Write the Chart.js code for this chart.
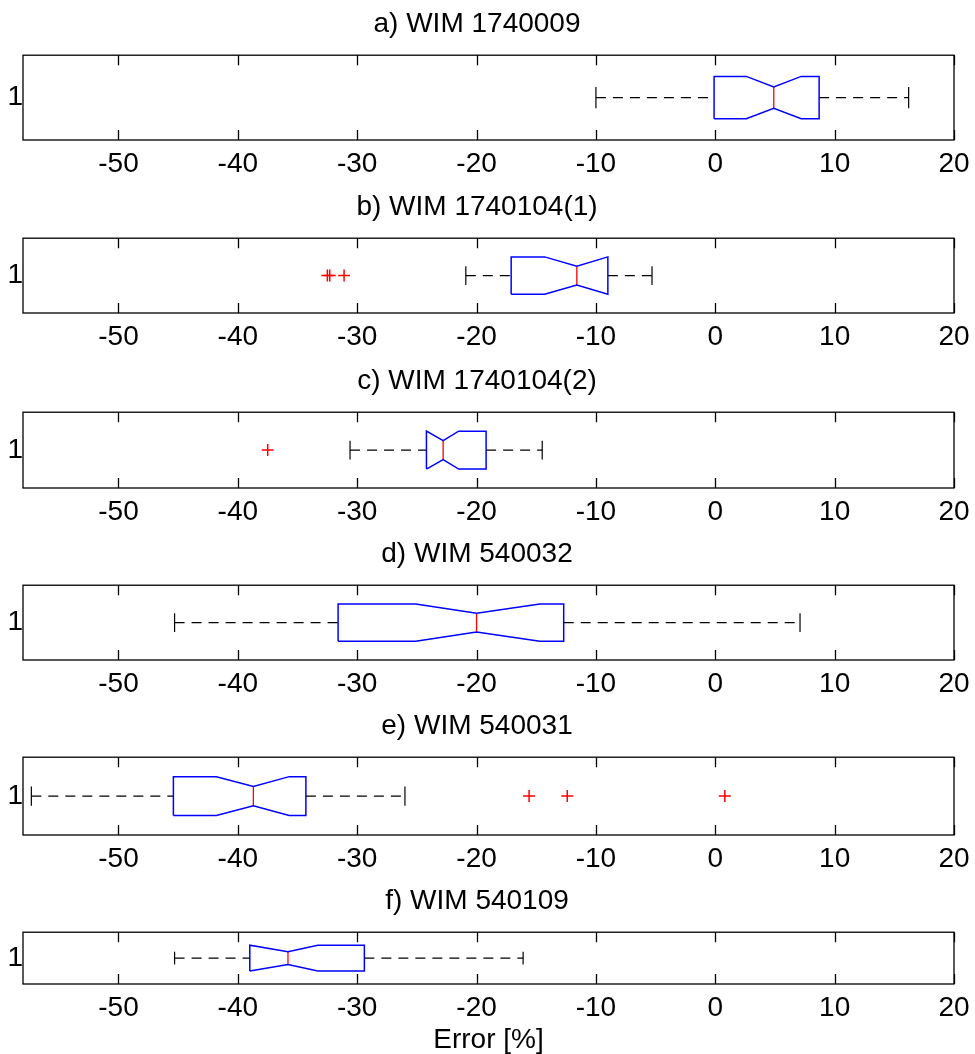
<!DOCTYPE html>
<html><head><meta charset="utf-8">
<script src="https://cdn.jsdelivr.net/npm/chart.js@4.4.0/dist/chart.umd.min.js"></script>
<style>
html,body{margin:0;padding:0;background:#fff;}
#wrap{position:relative;width:975px;height:1054px;overflow:hidden;background:#fff;}
canvas{position:absolute;left:0;}
</style></head><body><div id="wrap"></div>
<script>
// ---- data ----
const titles = ['a) WIM 1740009', 'b) WIM 1740104(1)', 'c) WIM 1740104(2)', 'd) WIM 540032', 'e) WIM 540031', 'f) WIM 540109'];
const whiskerLow  = [-10.0, -20.9, -30.6, -45.3, -57.3, -45.3];
const quartile1   = [ -0.1, -17.1, -24.2, -31.6, -45.4, -39.0];
const notchLow    = [  2.6, -14.3, -24.2, -25.1, -41.8, -39.0];
const medians     = [  4.9, -11.6, -22.8, -20.0, -38.7, -35.8];
const notchHigh   = [  7.2,  -9.0, -21.5, -14.7, -35.7, -33.3];
const quartile3   = [  8.7,  -9.0, -19.2, -12.7, -34.3, -29.4];
const whiskerHigh = [ 16.2,  -5.3, -14.5,   7.1, -26.0, -16.1];
const outliers    = [[], [-32.5, -32.3, -31.1], [-37.5], [], [-15.6, -12.4, 0.8], []];
const xTicks = [-50, -40, -30, -20, -10, 0, 10, 20];
const yTickLabels = ['1'];
const xLabel = 'Error [%]';

// ---- layout ----
const axesTop    = [54, 237, 411, 584, 756, 931];
const axesBottom = [140, 313, 488, 660, 835, 984];
const titleArea = 50, tickArea = 40, pageH = 1054;
const FONT = "'Liberation Sans', Arial, sans-serif";

const framePlugin = {
  id: 'frame',
  afterDatasetsDraw(chart) {
    const {ctx, chartArea: {left, top, right, bottom}, scales: {x}} = chart;
    ctx.save();
    ctx.strokeStyle = '#000';
    ctx.lineWidth = 1.3;
    ctx.strokeRect(left, top, right - left, bottom - top);
    ctx.beginPath();
    xTicks.forEach(v => {
      const px = Math.round(x.getPixelForValue(v)) + 0.5;
      ctx.moveTo(px, bottom); ctx.lineTo(px, bottom - 10);
      ctx.moveTo(px, top); ctx.lineTo(px, top + 10);
    });
    ctx.stroke();
    ctx.restore();
  }
};

const wrap = document.getElementById('wrap');
titles.forEach((t, i) => {
  const last = i === titles.length - 1;
  const bottomArea = last ? pageH - axesBottom[i] : tickArea;
  const h = titleArea + (axesBottom[i] - axesTop[i]) + bottomArea;
  const cv = document.createElement('canvas');
  cv.width = 975; cv.height = h;
  cv.style.top = (axesTop[i] - titleArea) + 'px';
  cv.style.width = '975px'; cv.style.height = h + 'px';
  wrap.appendChild(cv);

  const q1 = quartile1[i], q3 = quartile3[i], m = medians[i], nl = notchLow[i], nh = notchHigh[i];
  const boxPts = [
    {x: q1, y: 0.75}, {x: nl, y: 0.75}, {x: m, y: 0.875}, {x: nh, y: 0.75}, {x: q3, y: 0.75},
    {x: q3, y: 1.25}, {x: nh, y: 1.25}, {x: m, y: 1.125}, {x: nl, y: 1.25}, {x: q1, y: 1.25}, {x: q1, y: 0.75}
  ];
  const lineDs = (data, color, extra) => Object.assign({
    data, showLine: true, borderColor: color, backgroundColor: color,
    borderWidth: 1.5, pointRadius: 0, pointHoverRadius: 0, fill: false, spanGaps: false
  }, extra || {});

  const datasets = [
    lineDs([{x: whiskerLow[i], y: 1}, {x: q1, y: 1}], '#000', {borderDash: [10, 7], borderWidth: 1.4}),
    lineDs([{x: q3, y: 1}, {x: whiskerHigh[i], y: 1}], '#000', {borderDash: [10, 7], borderWidth: 1.4}),
    lineDs([{x: whiskerLow[i], y: 0.875}, {x: whiskerLow[i], y: 1.125}], '#000', {borderWidth: 1.2}),
    lineDs([{x: whiskerHigh[i], y: 0.875}, {x: whiskerHigh[i], y: 1.125}], '#000', {borderWidth: 1.2}),
    lineDs(boxPts, '#0000ff', {borderWidth: 1.5}),
    lineDs([{x: m, y: 0.875}, {x: m, y: 1.125}], '#ff0000', {borderWidth: 1.3}),
    {
      data: outliers[i].map(v => ({x: v, y: 1})), showLine: false,
      pointStyle: 'cross', pointRadius: 6, pointHoverRadius: 6,
      borderColor: '#ff0000', backgroundColor: '#ff0000', pointBorderWidth: 1.5
    }
  ];

  new Chart(cv, {
    type: 'scatter',
    data: {datasets},
    plugins: [framePlugin],
    options: {
      responsive: false, animation: false, events: [],
      layout: {padding: {left: 0, right: 21, top: 0, bottom: 0}},
      plugins: {
        legend: {display: false}, tooltip: {enabled: false},
        title: {
          display: true, text: t, color: '#000',
          font: {family: FONT, size: 28, weight: 'normal', lineHeight: 1.2},
          padding: {top: 3.5, bottom: 14.1}
        }
      },
      scales: {
        x: {
          type: 'linear', min: -58, max: 20,
          afterBuildTicks: s => { s.ticks = xTicks.map(v => ({value: v})); },
          afterFit: s => { s.height = bottomArea; },
          grid: {display: false}, border: {display: false},
          ticks: {color: '#000', font: {family: FONT, size: 28}, padding: -1, maxRotation: 0, autoSkip: false},
          title: last ? {display: true, text: xLabel, color: '#000', font: {family: FONT, size: 28, lineHeight: 1.0}, padding: {top: 0, bottom: 0}} : {display: false}
        },
        y: {
          type: 'linear', min: 0.5, max: 1.5,
          afterBuildTicks: s => { s.ticks = [{value: 1}]; },
          afterFit: s => { s.width = 23; },
          grid: {display: false}, border: {display: false},
          ticks: {color: '#000', font: {family: FONT, size: 28}, padding: -8, callback: v => yTickLabels[v - 1]}
        }
      }
    }
  });
});
</script></body></html>
